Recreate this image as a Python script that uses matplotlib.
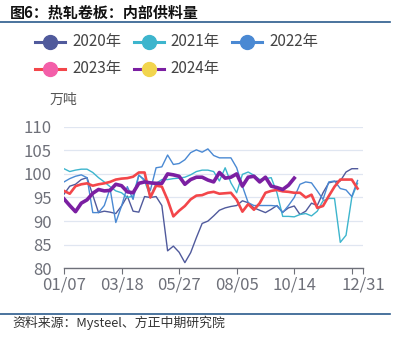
import matplotlib
matplotlib.use('Agg')
import matplotlib.pyplot as plt
from matplotlib.lines import Line2D

plt.rcParams['font.family'] = ['Noto Sans CJK SC', 'DejaVu Sans']

# weekly internal supply (10k tons), week index 0 = 01/07
y2020 = [95.7, 97.4, 97.8, 98.8, 99.2, 95.5, 91.8, 92.1, 91.9, 91.6,
         93.2, 95.3, 92.1, 91.9, 95.2, 95.0, 95.2, 93.3, 83.7, 84.7,
         83.4, 81.2, 83.3, 86.5, 89.5, 90.0, 91.1, 92.3, 92.8, 93.1,
         93.3, 94.3, 93.9, 92.8, 92.3, 91.8, 92.5, 93.3, 91.9, 92.8,
         93.2, 91.4, 92.1, 93.8, 93.3, 96.0, 98.1, 98.4, 98.5, 100.4,
         101.1, 101.1]
y2021 = [101.1, 100.5, 100.8, 101.0, 101.0, 100.3, 99.2, 98.3, 97.3, 96.4,
         96.0, 95.0, 95.3, 99.8, 98.5, 95.2, 98.0, 98.8, 98.8, 99.0,
         99.1, 99.3, 99.8, 100.5, 100.8, 100.8, 100.5, 98.5, 101.3, 98.1,
         96.0, 99.9, 100.4, 99.7, 98.8, 99.0, 99.2, 96.0, 91.0, 91.0,
         90.9, 91.4, 91.6, 91.1, 92.1, 94.3, 94.8, 94.8, 85.5, 87.0,
         95.0, 98.0]
y2022 = [98.3, 99.0, 99.5, 99.8, 99.2, 91.8, 91.8, 93.3, 96.9, 89.7,
         93.2, 97.3, 94.6, 99.7, 98.8, 96.5, 101.3, 101.5, 104.0, 102.0,
         102.2, 103.0, 104.5, 105.1, 104.6, 105.3, 103.9, 103.4, 103.4, 103.4,
         101.3, 97.4, 93.9, 93.3, 93.3, 93.3, 93.3, 93.2, 91.8, 93.3,
         95.0, 97.8, 98.3, 98.1, 96.4, 94.6, 98.3, 98.5, 96.9, 96.6,
         95.2, 98.6]
y2023 = [96.4, 95.8, 97.4, 97.8, 98.0, 97.5, 97.8, 98.0, 98.3, 98.8,
         99.0, 99.1, 99.4, 100.3, 100.3, 95.0, 97.5, 97.3, 94.5, 91.0,
         92.2, 93.2, 94.6, 95.4, 95.5, 96.0, 96.2, 95.8, 95.9, 96.0,
         94.5, 92.0, 93.6, 92.4, 93.8, 96.0, 96.4, 96.6, 96.3, 96.2,
         96.0, 96.0, 95.0, 95.6, 92.8, 93.2, 95.3, 97.3, 98.8, 98.8,
         98.8, 96.9]
y2024 = [94.7, 93.3, 92.0, 93.8, 94.5, 95.9, 96.7, 96.4, 96.5, 97.8,
         97.5, 96.2, 96.0, 98.0, 98.3, 98.1, 98.0, 98.0, 100.0, 99.8,
         99.5, 97.8, 98.8, 99.3, 99.3, 98.7, 98.3, 100.3, 99.1, 99.3,
         100.0, 97.4, 99.3, 99.5, 98.3, 99.3, 97.4, 97.1, 96.7, 97.6,
         99.1]

names = ['2020年', '2021年', '2022年', '2023年', '2024年']
series = [y2020, y2021, y2022, y2023, y2024]
line_colors = ['#505a9c', '#3db5cd', '#4a89d3', '#f3464a', '#7b1fa2']
marker_colors = ['#505a9c', '#3db5cd', '#4a89d3', '#f35fa9', '#f2d54e']
widths = [1.0, 1.0, 1.0, 1.9, 2.6]

tick_pos = [0, 10, 20, 30, 40, 50, 52]
tick_labels = ['01/07', '03/18', '05/27', '08/05', '10/14', '', '12/31']

W, H = 398, 348
fig = plt.figure(figsize=(W / 100, H / 100), dpi=100)
ax = fig.add_axes([64 / W, 1 - 268.3 / H, (363.3 - 64) / W, (268.3 - 126.7) / H])

for vals, c, lw in zip(series, line_colors, widths):
    ax.plot(range(len(vals)), vals, color=c, lw=lw, solid_joinstyle='round')

ax.set_xlim(0, 52)
ax.set_ylim(80, 110)
ax.set_yticks(range(80, 111, 5))
ax.set_xticks(tick_pos)
ax.set_xticklabels(tick_labels)
ax.grid(axis='y', color='#e0e6f1', lw=0.9)
ax.set_axisbelow(True)
for s in ['top', 'right', 'left']:
    ax.spines[s].set_visible(False)
ax.spines['bottom'].set_color('#6e7079')
ax.spines['bottom'].set_linewidth(1.0)
ax.tick_params(axis='y', length=0, pad=9, labelsize=12, labelcolor='#6e7079')
ax.tick_params(axis='x', length=4, color='#6e7079', pad=2, labelsize=12,
               labelcolor='#6e7079')

# title and frame lines
fig.text(10 / W, 1 - 12 / H, '图6：热轧卷板：内部供料量', fontsize=10.8,
         fontweight='bold', color='#111111', va='center', ha='left')
fig.add_artist(Line2D([0, 390 / W], [1 - 22 / H] * 2, color='#2b5b8c', lw=1.2))
fig.add_artist(Line2D([0, 390 / W], [1 - 314 / H] * 2, color='#2b5b8c', lw=1.2))
fig.text(12 / W, 1 - 323 / H, '资料来源：Mysteel、方正中期研究院', fontsize=9.3,
         color='#333333', va='center', ha='left', style='italic')

fig.text(50 / W, 1 - 100 / H, '万吨', fontsize=10, color='#555555',
         va='center', ha='left')

# legend
for k, name in enumerate(names):
    x0 = 35 + (k % 3) * 98.5
    yy = 1 - (41.7 + (k // 3) * 27.3) / H
    fig.add_artist(Line2D([x0 / W, (x0 + 30) / W], [yy, yy],
                          color=line_colors[k], lw=2.2))
    fig.add_artist(Line2D([(x0 + 15) / W], [yy], marker='o', markersize=10,
                          markerfacecolor=marker_colors[k],
                          markeredgecolor=marker_colors[k], lw=0))
    fig.text((x0 + 37) / W, yy, name, fontsize=11, color='#444444',
             va='center', ha='left')

fig.savefig('out.png', dpi=100)
